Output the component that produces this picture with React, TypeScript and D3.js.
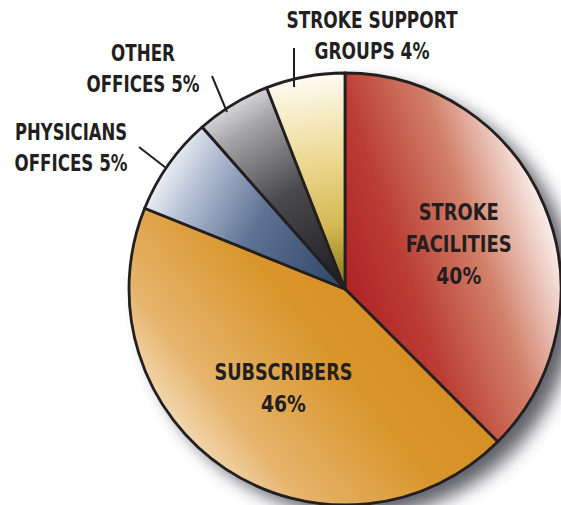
import React from "react";
import * as d3 from "d3";

// slice shares as drawn (angles)
const categories = ["Stroke Facilities", "Subscribers", "Physicians Offices", "Other Offices", "Stroke Support Groups"];
const shares = [37.5, 43.6, 7.4, 5.6, 5.9];
// percentages printed on the labels
const labelPcts = ["40%", "46%", "5%", "5%", "4%"];

const W = 561;
const H = 505;
const CX = 345;
const CY = 289;
const R = 216;
const INK = "#231f20";

// gradient stops per slice, page coordinates
const gradients = [
  { id: "g0", x1: 355, y1: 320, x2: 560, y2: 250, stops: [[0, "#b02226"], [0.3, "#bb3e34"], [0.65, "#d28069"], [1, "#faefec"]] },
  { id: "g1", x1: 420, y1: 290, x2: 170, y2: 490, stops: [[0, "#d58c22"], [0.35, "#d9962c"], [0.7, "#e6b46c"], [1, "#fef6ec"]] },
  { id: "g2", x1: 330, y1: 285, x2: 150, y2: 185, stops: [[0, "#344a6d"], [0.45, "#5d7294"], [0.8, "#b5c0d4"], [1, "#f2f4f9"]] },
  { id: "g3", x1: 335, y1: 280, x2: 220, y2: 95, stops: [[0, "#202022"], [0.45, "#4a4a4d"], [0.8, "#a5a5a8"], [1, "#eeeeef"]] },
  { id: "g4", x1: 340, y1: 290, x2: 310, y2: 78, stops: [[0, "#84741a"], [0.3, "#d4b852"], [0.6, "#ecd78e"], [1, "#fefbf1"]] },
];

// measured line widths, so the condensed face lines up
const lineWidths: Record<string, number> = {
  "STROKE": 80, "FACILITIES": 106, "40%": 45, "SUBSCRIBERS": 138, "46%": 45,
  "STROKE SUPPORT": 171, "GROUPS 4%": 115, "OTHER": 64, "OFFICES 5%": 113, "PHYSICIANS": 112,
};

const outerLabels = [
  { i: 4, lines: ["STROKE SUPPORT", "GROUPS " + labelPcts[4]], x: 372, y: 28, lead: [[294, 48], [294, 87]] },
  { i: 3, lines: ["OTHER", "OFFICES " + labelPcts[3]], x: 143, y: 61, lead: [[212, 76], [227, 112]] },
  { i: 2, lines: ["PHYSICIANS", "OFFICES " + labelPcts[2]], x: 71, y: 140, lead: [[139, 147], [166, 168]] },
];

export default function App() {
  const pie = d3.pie<number>().sort(null).value((d) => d);
  const arcs = pie(shares);
  const arc = d3.arc<d3.PieArcDatum<number>>().innerRadius(0).outerRadius(R);
  const labelArc = d3.arc<d3.PieArcDatum<number>>().innerRadius(R * 0.55).outerRadius(R * 0.55);

  const innerLabels = [
    { i: 0, lines: ["STROKE", "FACILITIES", labelPcts[0]] },
    { i: 1, lines: ["SUBSCRIBERS", labelPcts[1]] },
  ];

  const font = {
    fontFamily: "'DejaVu Sans Condensed', 'DejaVu Sans', sans-serif",
    fontWeight: 700,
    fontSize: 23,
    fill: INK,
  };

  const tspan = (t: string, k: number, x: number, y: number) => (
    <tspan key={k} x={x} y={y} textLength={lineWidths[t]} lengthAdjust="spacingAndGlyphs">
      {t}
    </tspan>
  );

  return (
    <svg width={W} height={H} style={{ position: "absolute", left: 0, top: 0 }}>
      <defs>
        {gradients.map((g) => (
          <linearGradient
            key={g.id}
            id={g.id}
            gradientUnits="userSpaceOnUse"
            gradientTransform={`translate(${-CX},${-CY})`}
            x1={g.x1}
            y1={g.y1}
            x2={g.x2}
            y2={g.y2}
          >
            {g.stops.map(([o, c]) => (
              <stop key={String(o)} offset={o as number} stopColor={c as string} />
            ))}
          </linearGradient>
        ))}
        <filter id="shadow" x="-20%" y="-20%" width="140%" height="140%">
          <feGaussianBlur stdDeviation="9" />
        </filter>
      </defs>
      <rect width={W} height={H} fill="#fff" />
      <circle cx={CX + 14} cy={CY + 11} r={R} fill="#4f4f58" opacity={0.9} filter="url(#shadow)" />
      <g transform={`translate(${CX},${CY})`}>
        {arcs.map((a, i) => (
          <path
            key={categories[i]}
            d={arc(a) || ""}
            fill={`url(#g${i})`}
            stroke={INK}
            strokeWidth={2.8}
            strokeLinejoin="round"
          />
        ))}
      </g>
      {innerLabels.map((l) => {
        const [x, y] = labelArc.centroid(arcs[l.i]);
        const top = CY + y - ((l.lines.length - 1) * 32) / 2 + 8;
        return (
          <text key={l.i} textAnchor="middle" {...font}>
            {l.lines.map((t, k) => tspan(t, k, CX + x + 4, top + k * 32))}
          </text>
        );
      })}
      {outerLabels.map((l) => (
        <g key={l.i}>
          <line x1={l.lead[0][0]} y1={l.lead[0][1]} x2={l.lead[1][0]} y2={l.lead[1][1]} stroke={INK} strokeWidth={2} />
          <text textAnchor="middle" {...font}>
            {l.lines.map((t, k) => tspan(t, k, l.x, l.y + k * 31))}
          </text>
        </g>
      ))}
    </svg>
  );
}
